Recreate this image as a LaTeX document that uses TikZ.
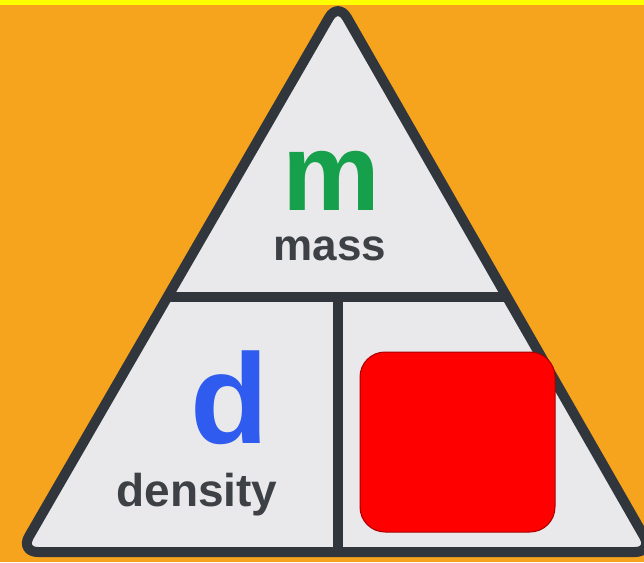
\documentclass[tikz,border=0pt]{standalone}
\usepackage{fontspec}
\setmainfont{Liberation Sans}
\usetikzlibrary{calc}

\definecolor{fondo}{HTML}{F6A31E}
\definecolor{franja}{HTML}{FFFF00}
\definecolor{borde}{HTML}{30363C}
\definecolor{relleno}{HTML}{E9E9EB}
\definecolor{verde}{HTML}{17A04B}
\definecolor{azul}{HTML}{2F5CEE}
\definecolor{gris}{HTML}{3D4045}
\definecolor{rojo}{HTML}{FF0000}

\newcommand{\coordTriangulo}{
\coordinate (T) at (338,2);
\coordinate (BL) at (20,552);
\coordinate (BR) at (653,552);
\coordinate (HL) at ($(T)!{295/550}!(BL)$);
\coordinate (HR) at ($(T)!{295/550}!(BR)$);
\coordinate (VT) at (338,297);
\coordinate (VB) at (338,552);
}

\tikzset{
contorno/.style={draw=borde,line width=10pt,rounded corners=18pt,line join=round},
divisor/.style={draw=borde,line width=10pt},
letra/.style={anchor=base,inner sep=0pt,text depth=0pt,font=\bfseries\fontsize{#1}{#1}\selectfont},
etiqueta/.style={anchor=base,inner sep=0pt,text=gris,font=\bfseries\fontsize{#1}{#1}\selectfont},
caja/.style={draw=rojo!65!black,line width=1pt,fill=rojo,rounded corners=25pt,
  minimum width=195pt,minimum height=180pt,inner sep=0pt}
}

\begin{document}
\begin{tikzpicture}[x=1pt,y=-1pt]
    \useasboundingbox (0,0) rectangle (644,562);
    \fill[fondo] (0,0) rectangle (644,562);
    \fill[franja] (0,0) rectangle (644,5);
    \coordTriangulo

    \fill[relleno,rounded corners=18pt] (T)--(BR)--(BL)--cycle;
    \draw[divisor] (HL)--(HR);
    \draw[divisor] (VT)--(VB);
    \draw[contorno] (T)--(BR)--(BL)--cycle;

    \node[letra=110,text=verde,text height=60pt] (m) at (331,210) {m};
    \node[etiqueta=44,text height=24pt] (masa) at (330,260) {mass};
    \node[letra=128,text=azul] (d) at (230,443) {d};
    \node[etiqueta=46] (densidad) at (197,506) {density};
    \node[caja] (volumen) at (457.5,442) {};
\end{tikzpicture}
\end{document}
